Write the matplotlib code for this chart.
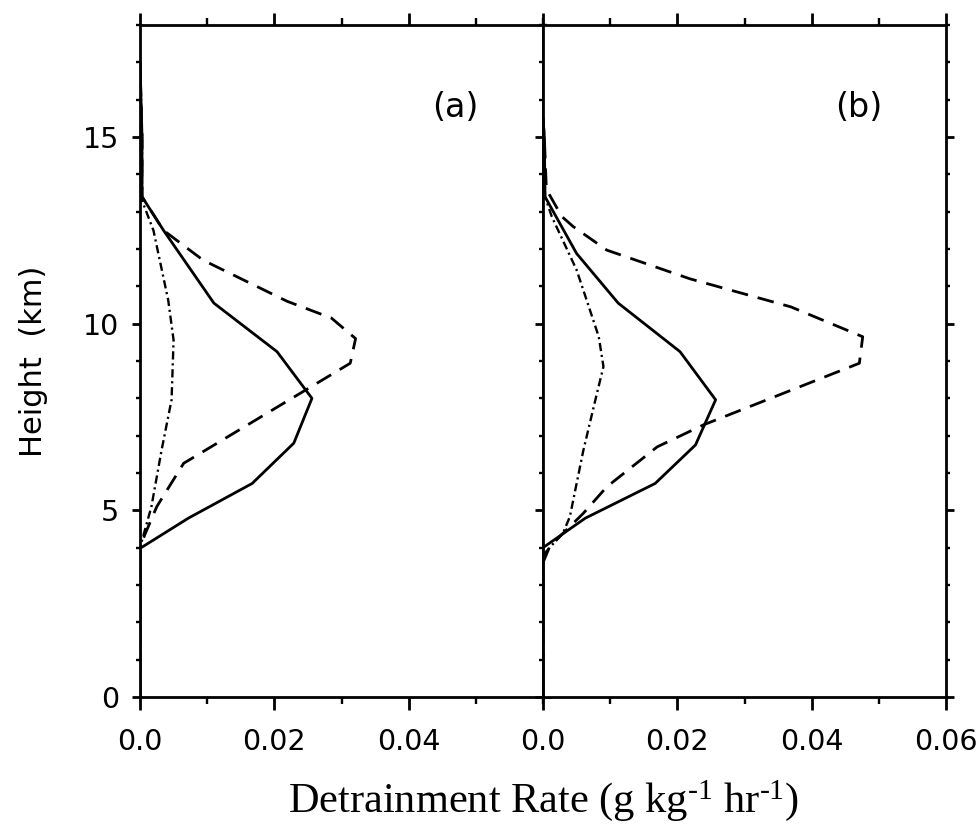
import matplotlib
matplotlib.use("Agg")
import matplotlib.pyplot as plt
from matplotlib.ticker import MultipleLocator, FixedLocator, FixedFormatter

# ---------------- data ----------------
# panel (a)
solid_a_z = [0, 3.98, 4.79, 5.72, 6.80, 8.00, 9.25, 10.55, 12.5, 13.4, 15.0, 17.0]
solid_a_x = [0, 0.0, 0.0072, 0.0167, 0.0229, 0.0256, 0.0204, 0.0110, 0.0035, 0.0003, 0.0003, 0.0]

dashed_a_z = [0, 4.0, 4.34, 5.1, 6.26, 8.94, 9.6, 10.15, 10.6, 11.7, 12.5, 13.4, 15.0, 17.0]
dashed_a_x = [0, 0.0, 0.0007, 0.0025, 0.0065, 0.0313, 0.0321, 0.0285, 0.0219, 0.0094, 0.0035, 0.0003, 0.0003, 0.0]

dashdot_a_z = [0, 4.0, 5.1, 6.6, 7.96, 9.56, 10.63, 12.5, 13.3, 15.0, 17.0]
dashdot_a_x = [0, 0.0, 0.0017, 0.0032, 0.0047, 0.0050, 0.0042, 0.0020, 0.0003, 0.0003, 0.0]

# panel (b)
solid_b_z = [0, 4.0, 4.79, 5.72, 6.75, 7.96, 9.25, 10.55, 11.88, 13.4, 15.0, 15.5]
solid_b_x = [0, 0.0, 0.0063, 0.0167, 0.0227, 0.0257, 0.0204, 0.0112, 0.0050, 0.0003, 0.0002, 0.0]

dashed_b_z = [0, 3.6, 4.03, 4.92, 5.63, 6.7, 7.29, 8.94, 9.65, 10.45, 11.2, 11.97, 12.6, 12.87, 13.6, 15.0, 15.5]
dashed_b_x = [0, 0.0, 0.0010, 0.0060, 0.0095, 0.0170, 0.0239, 0.0471, 0.0476, 0.0369, 0.0219, 0.0095, 0.0045, 0.0028, 0.0005, 0.0002, 0.0]

dashdot_b_z = [0, 3.8, 4.4, 4.83, 6.6, 7.96, 8.85, 9.65, 10.63, 11.44, 12.87, 13.4, 15.0, 15.5]
dashdot_b_x = [0, 0.0, 0.0030, 0.0040, 0.0060, 0.0078, 0.0090, 0.0083, 0.0065, 0.0050, 0.0013, 0.0003, 0.0002, 0.0]

panel_labels = ["(a)", "(b)"]
xticks_a = [0.0, 0.02, 0.04]
xticks_b = [0.0, 0.02, 0.04, 0.06]
xticklabels_a = ["0.0", "0.02", "0.04"]
xticklabels_b = ["0.0", "0.02", "0.04", "0.06"]
yticks = [0, 5, 10, 15]
ylabel = "Height  (km)"
xlabel = r"Detrainment Rate (g kg$^{\text{-1}}$ hr$^{\text{-1}}$)"

# ---------------- figure ----------------
plt.rcParams["mathtext.fontset"] = "custom"
plt.rcParams["mathtext.rm"] = "Liberation Serif"
plt.rcParams["mathtext.it"] = "Liberation Serif:italic"

fig = plt.figure(figsize=(9.8, 8.33), dpi=100)
L, B, W, H = 140 / 980, 1 - 697 / 833, 403 / 980, 672 / 833
ax1 = fig.add_axes([L, B, W, H])
ax2 = fig.add_axes([L + W, B, W, H])

lw = 2.0
for ax, data, lab, xt, xtl in [
    (ax1, (solid_a_x, solid_a_z, dashed_a_x, dashed_a_z, dashdot_a_x, dashdot_a_z), panel_labels[0], xticks_a, xticklabels_a),
    (ax2, (solid_b_x, solid_b_z, dashed_b_x, dashed_b_z, dashdot_b_x, dashdot_b_z), panel_labels[1], xticks_b, xticklabels_b),
]:
    sx, sz, dx, dz, ddx, ddz = data
    ax.plot(sx, sz, color="black", lw=lw)
    ax.plot(dx, dz, color="black", lw=lw, linestyle=(0, (6.0, 3.6)))
    ax.plot(ddx, ddz, color="black", lw=1.7, linestyle=(0, (3.5, 1.6, 0.9, 1.6)))
    ax.set_xlim(0, 0.06)
    ax.set_ylim(0, 18)
    ax.xaxis.set_major_locator(FixedLocator(xt))
    ax.xaxis.set_major_formatter(FixedFormatter(xtl))
    ax.xaxis.set_minor_locator(MultipleLocator(0.01))
    ax.yaxis.set_major_locator(FixedLocator(yticks))
    ax.yaxis.set_minor_locator(MultipleLocator(1))
    ax.tick_params(axis="x", which="major", direction="out", length=9, width=2.0,
                   top=True, bottom=True, labelsize=20.5, pad=13)
    ax.tick_params(axis="x", which="minor", direction="out", length=5, width=1.7,
                   top=True, bottom=True)
    ax.tick_params(axis="y", which="major", direction="out", length=6, width=2.0,
                   left=True, right=True, labelsize=20.5, pad=9)
    ax.tick_params(axis="y", which="minor", direction="out", length=3, width=1.7,
                   left=True, right=True)
    for s in ax.spines.values():
        s.set_linewidth(2.0)
    ax.text(0.047, 15.78, lab, fontsize=24, ha="center", va="center")

ax1.set_yticklabels([str(v) for v in yticks])
ax2.set_yticklabels([])

fig.text(33 / 980, 1 - 361 / 833, ylabel, rotation=90, fontsize=22,
         ha="center", va="center")
fig.text(544 / 980, 1 - 812 / 833, xlabel, fontsize=30.5, ha="center",
         va="baseline", family="Liberation Serif")

fig.savefig("out.png", dpi=100)
